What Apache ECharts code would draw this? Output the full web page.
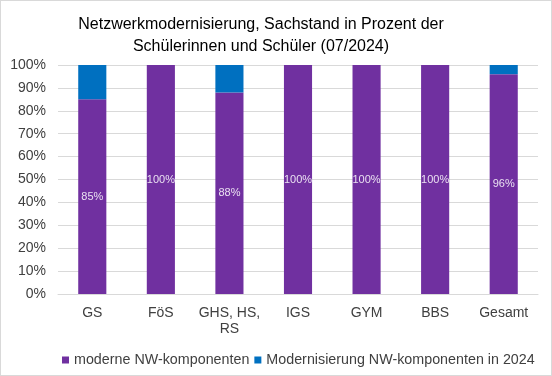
<!DOCTYPE html>
<html>
<head>
<meta charset="utf-8">
<script src="https://cdn.jsdelivr.net/npm/echarts@6/dist/echarts.min.js"></script>
<style>
  html, body { margin: 0; padding: 0; background: #fff; }
  #chart { width: 550px; height: 374px; border: 1px solid #d9d9d9; }
</style>
</head>
<body>
<div id="chart"></div>
<script>
  const categories = ["GS", "FöS", "GHS, HS,\nRS", "IGS", "GYM", "BBS", "Gesamt"];
  const moderne = [85, 100, 88, 100, 100, 100, 96];
  const modernisierung = [15, 0, 12, 0, 0, 0, 4];
  const seriesNames = ["moderne NW-komponenten", "Modernisierung NW-komponenten in 2024"];

  const chart = echarts.init(document.getElementById("chart"));
  chart.setOption({
    animation: false,
    textStyle: { fontFamily: "Liberation Sans, Arial, sans-serif" },
    title: {
      text: "Netzwerkmodernisierung, Sachstand in Prozent der\nSchülerinnen und Schüler (07/2024)",
      left: 255,
      textAlign: "center",
      top: 8,
      textStyle: { fontSize: 16, fontWeight: "normal", color: "#000", lineHeight: 22 }
    },
    legend: {
      bottom: 3,
      left: 56,
      itemWidth: 7,
      itemHeight: 7,
      itemGap: 5,
      icon: "rect",
      textStyle: { fontSize: 14.3, color: "#404040" },
      data: seriesNames
    },
    grid: { left: 57, right: 13, top: 64, bottom: 81 },
    xAxis: {
      type: "category",
      data: categories,
      axisTick: { show: false },
      axisLine: { lineStyle: { color: "#d9d9d9" } },
      axisLabel: { color: "#404040", fontSize: 14, margin: 11, lineHeight: 16, interval: 0 }
    },
    yAxis: {
      type: "value",
      min: 0,
      max: 100,
      interval: 10,
      axisLabel: { formatter: "{value}%", color: "#404040", fontSize: 14, margin: 12 },
      splitLine: { lineStyle: { color: "#d9d9d9" } }
    },
    series: [
      {
        name: seriesNames[0],
        type: "bar",
        stack: "total",
        barWidth: "41%",
        data: moderne,
        itemStyle: { color: "#7030A0" },
        label: {
          show: true,
          position: "inside",
          formatter: "{c}%",
          color: "rgba(255,255,255,0.85)",
          fontSize: 11
        }
      },
      {
        name: seriesNames[1],
        type: "bar",
        stack: "total",
        data: modernisierung,
        itemStyle: { color: "#0070C0" }
      }
    ]
  });
</script>
</body>
</html>
